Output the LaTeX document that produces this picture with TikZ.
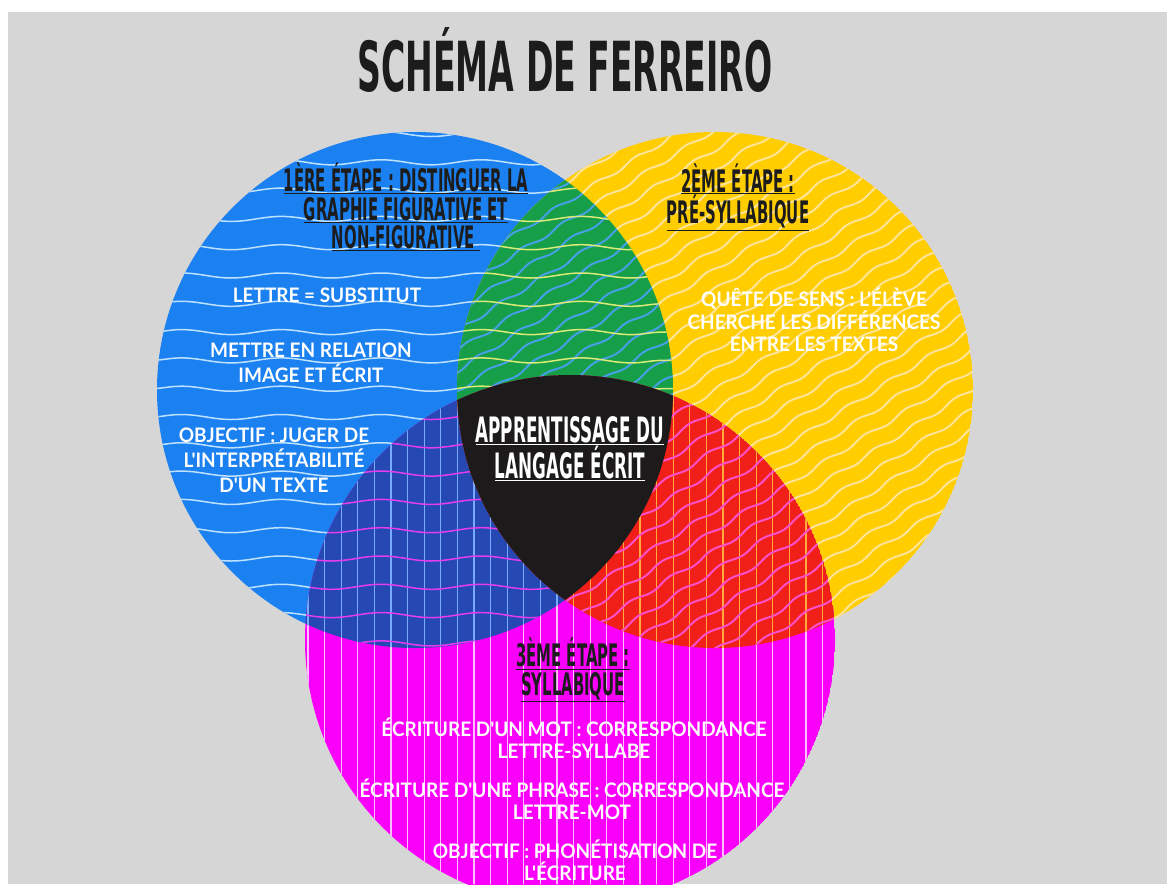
\documentclass[tikz,border=0pt]{standalone}
\usepackage{fontspec}
\usetikzlibrary{decorations.pathmorphing}
\newfontfamily\headfont[FakeStretch=0.48]{DejaVu Sans}
\newfontfamily\bodyfont[FakeStretch=0.95]{Lato}
\definecolor{bggray}{RGB}{214,214,214}
\definecolor{vennblue}{RGB}{27,128,240}
\definecolor{vennyellow}{RGB}{255,205,0}
\definecolor{vennmagenta}{RGB}{250,0,250}
\definecolor{venngreen}{RGB}{22,158,72}
\definecolor{vennnavy}{RGB}{38,72,178}
\definecolor{vennred}{RGB}{240,32,24}
\definecolor{vennblack}{RGB}{28,26,27}
\definecolor{inkdark}{RGB}{28,28,28}
\tikzset{
  bluewave/.style={color={rgb,255:red,190;green,225;blue,255},line width=1.5pt},
  yellowwave/.style={color={rgb,255:red,255;green,228;blue,150},line width=2pt},
  magentaline/.style={color={rgb,255:red,255;green,190;blue,255},line width=1.2pt},
  greenwave/.style={color={rgb,255:red,220;green,235;blue,120},line width=1.5pt},
  greenslant/.style={color={rgb,255:red,70;green,160;blue,230},line width=2pt},
  navyline/.style={color={rgb,255:red,120;green,170;blue,255},line width=1.2pt},
  navywave/.style={color={rgb,255:red,230;green,60;blue,240},line width=1.5pt},
  redline/.style={color={rgb,255:red,255;green,170;blue,60},line width=1.2pt},
  redslant/.style={color={rgb,255:red,255;green,80;blue,200},line width=2pt},
  headtext/.style={inner sep=0pt,align=center,text=inkdark,font=\headfont\bfseries\fontsize{31}{28.5}\selectfont},
  bodytext/.style={inner sep=0pt,align=center,text=white,font=\bodyfont\bfseries\fontsize{20}{25}\selectfont}
}
% horizontal waves of the first circle
\newcommand{\wavesacross}[1]{%
  \foreach \k in {0,...,19}
    \draw[#1,decorate,decoration={snake,amplitude=2.5pt,segment length=100pt}] (150,{134+28.3*\k}) -- (690,{134+28.3*\k});}
% slanted waves of the second circle
\newcommand{\wavesslant}[1]{%
  \begin{scope}[rotate around={32:(715,390)}]
    \foreach \k in {-17,...,17}
      \draw[#1,decorate,decoration={snake,amplitude=2pt,segment length=48pt}] (420,{390+17*\k}) -- (1010,{390+17*\k});
  \end{scope}}
% upright lines of the third circle
\newcommand{\linesdown}[1]{%
  \foreach \k in {0,...,32}
    \draw[#1] ({308+16.6*\k},370) -- ({308+16.6*\k},884);}

\begin{document}
\begin{tikzpicture}[line cap=round,line join=round,x=1pt,y=-1pt]
  \useasboundingbox (0,0) rectangle (1167,884);
  \fill[white] (0,0) rectangle (1167,884);
  \fill[bggray] (8,12) rectangle (1167,884);
  \coordinate (blue) at (415,390);
  \coordinate (yellow) at (715,390);
  \coordinate (magenta) at (570,640);
  \begin{scope}
    \clip (0,0) rectangle (1167,884);
    % single circles
    \begin{scope}
      \clip (blue) circle (258pt);
      \fill[vennblue] (blue) circle (258pt);
      \wavesacross{bluewave}
    \end{scope}
    \begin{scope}
      \clip (yellow) circle (258pt);
      \fill[vennyellow] (yellow) circle (258pt);
      \wavesslant{yellowwave}
    \end{scope}
    \begin{scope}
      \clip (magenta) circle (265pt);
      \fill[vennmagenta] (magenta) circle (265pt);
      \linesdown{magentaline}
    \end{scope}
    % overlaps
    \begin{scope}
      \clip (blue) circle (258pt);
      \clip (yellow) circle (258pt);
      \fill[venngreen] (yellow) circle (258pt);
      \wavesslant{greenslant}
      \wavesacross{greenwave}
    \end{scope}
    \begin{scope}
      \clip (blue) circle (258pt);
      \clip (magenta) circle (265pt);
      \fill[vennnavy] (magenta) circle (265pt);
      \linesdown{navyline}
      \wavesacross{navywave}
    \end{scope}
    \begin{scope}
      \clip (yellow) circle (258pt);
      \clip (magenta) circle (265pt);
      \fill[vennred] (magenta) circle (265pt);
      \linesdown{redline}
      \wavesslant{redslant}
    \end{scope}
    \begin{scope}
      \clip (blue) circle (258pt);
      \clip (yellow) circle (258pt);
      \fill[vennblack] (magenta) circle (265pt);
    \end{scope}
  \end{scope}
  % texts
  \node[headtext,font=\headfont\bfseries\fontsize{69}{69}\selectfont] (title) at (565,60) {SCHÉMA DE FERREIRO};
  \node[headtext] (stageone) at (406,207) {\underline{1ÈRE ÉTAPE : DISTINGUER LA}\\\underline{GRAPHIE FIGURATIVE ET}\\\underline{NON-FIGURATIVE\ }};
  \node[headtext] (stagetwo) at (738,197) {\underline{2ÈME ÉTAPE :}\\\underline{PRÉ-SYLLABIQUE}};
  \node[headtext] (stagethree) at (573,670) {\underline{3ÈME ÉTAPE :}\\\underline{SYLLABIQUE}};
  \node[headtext,text=white,font=\headfont\bfseries\fontsize{35}{31}\selectfont] (core) at (570,449) {\underline{APPRENTISSAGE DU}\\\underline{LANGAGE ÉCRIT}};
  \node[bodytext] (onea) at (327,295) {LETTRE = SUBSTITUT};
  \node[bodytext] (oneb) at (311,363) {METTRE EN RELATION\\IMAGE ET ÉCRIT};
  \node[bodytext] (onec) at (274,460) {OBJECTIF : JUGER DE\\L'INTERPRÉTABILITÉ\\D'UN TEXTE};
  \node[bodytext,font=\bodyfont\bfseries\fontsize{20}{22.5}\selectfont] (twoa) at (814,320) {QUÊTE DE SENS : L'ÉLÈVE\\CHERCHE LES DIFFÉRENCES\\ENTRE LES TEXTES};
  \node[bodytext,font=\bodyfont\bfseries\fontsize{20}{22}\selectfont] (threea) at (574,738) {ÉCRITURE D'UN MOT : CORRESPONDANCE\\LETTRE-SYLLABE};
  \node[bodytext,font=\bodyfont\bfseries\fontsize{20}{22}\selectfont] (threeb) at (572,799) {ÉCRITURE D'UNE PHRASE : CORRESPONDANCE\\LETTRE-MOT};
  \node[bodytext,font=\bodyfont\bfseries\fontsize{20}{22}\selectfont] (threec) at (575,860) {OBJECTIF : PHONÉTISATION DE\\L'ÉCRITURE};
\end{tikzpicture}
\end{document}
